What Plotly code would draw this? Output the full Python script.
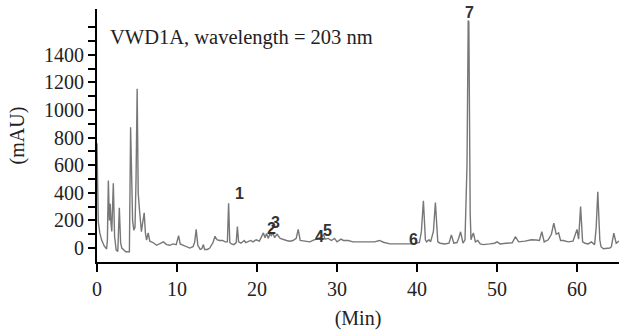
import plotly.graph_objects as go

# Retention time (min) and absorbance (mAU)
time_min = [0.0, 0.08, 0.16, 0.35, 0.58, 0.9, 1.2, 1.3, 1.42, 1.55, 1.65, 1.75, 1.85, 2.04, 2.2, 2.4, 2.6, 2.79, 2.95, 3.1, 3.6, 4.05,
            4.2, 4.45, 4.6, 4.75, 4.88, 5.02, 5.15, 5.3, 5.42, 5.55, 5.7, 5.9, 6.05, 6.2, 6.4, 6.6, 6.8,
            7.0, 7.45, 7.8, 8.3, 8.7, 9.1, 9.5, 9.9, 10.2, 10.4, 10.8, 11.2, 11.6, 12.0, 12.2, 12.4, 12.6, 12.9, 13.1, 13.3, 13.45, 13.8,
            14.1, 14.5, 14.75, 15.0, 15.3, 15.7, 16.0, 16.3, 16.45, 16.6, 16.8, 17.1, 17.4, 17.55, 17.7, 18.0, 18.4, 18.6, 18.9, 19.2,
            19.5, 19.9, 20.3, 20.6, 20.8, 21.0, 21.2, 21.4, 21.6, 21.8, 22.0, 22.2, 22.5, 22.9, 23.3, 23.7, 24.1, 24.5, 24.9, 25.15,
            25.4, 25.8, 26.2, 26.6, 27.0, 27.5, 27.8, 28.1, 28.3, 28.5, 28.9, 29.3, 29.7, 30.0, 30.5, 30.8, 31.4, 32.0, 32.6, 33.3,
            34.1, 34.7, 35.3, 35.8, 36.6, 37.5, 38.3, 38.9, 39.6, 40.3, 40.55, 40.8, 41.05, 41.2, 41.5, 41.7, 42.05, 42.3, 42.6, 42.9,
            43.5, 44.0, 44.3, 44.6, 45.0, 45.2, 45.45, 45.75, 46.0, 46.25, 46.4, 46.48, 46.65, 46.75, 46.85, 47.05, 47.3, 47.6, 47.9,
            48.3, 49.1, 49.7, 50.0, 50.4, 51.1, 51.9, 52.3, 52.7, 53.5, 54.3, 54.9, 55.3, 55.6, 55.9, 56.4, 56.8, 57.1, 57.4, 57.7,
            57.95, 58.3, 58.9, 59.5, 59.8, 60.0, 60.2, 60.45, 60.7, 61.0, 61.4, 61.8, 62.2, 62.4, 62.6, 62.85, 63.0, 63.3, 64.1, 64.3,
            64.6, 64.9, 65.25]
absorbance_mau = [760, 300, 190, 110, 58, 15, -7, 60, 490, 200, 320, 180, 120, 470, 82, -15, -25, 292, 40, 0, -27, -27,
                  875, 200, 130, 150, 500, 1155, 400, 283, 220, 118, 180, 255, 110, 58, 110, 50, 45,
                  40, 20, 30, 45, 25, 20, 30, 25, 90, 30, 20, 10, 0, 10, 40, 135, 20, -10, -5, 25, -10, -10,
                  0, 40, 85, 60, 55, 55, 45, 45, 325, 40, 30, 25, 40, 155, 45, 35, 55, 40, 50, 55,
                  45, 60, 50, 85, 110, 75, 105, 70, 100, 90, 110, 75, 100, 70, 60, 55, 50, 55, 70, 135,
                  55, 50, 45, 45, 55, 65, 70, 80, 100, 65, 70, 55, 70, 45, 65, 55, 55, 45, 45, 45,
                  40, 45, 55, 42, 30, 30, 30, 35, 30, 40, 120, 343, 60, 45, 60, 45, 120, 330, 45, 35,
                  30, 35, 95, 35, 40, 70, 118, 35, 60, 600, 1648, 1640, 250, 60, 80, 110, 45, 55, 30,
                  25, 30, 35, 45, 30, 35, 38, 82, 45, 50, 60, 58, 55, 118, 45, 60, 100, 180, 100, 110,
                  55, 55, 45, 50, 100, 135, 65, 300, 45, 35, 30, 45, 25, 150, 408, 60, 10, -5, 0, 10,
                  108, 35, 50]

# Numbered peak labels
peak_labels = ["1", "2", "3", "4", "5", "6", "7"]
peak_label_time = [17.75, 21.84, 22.25, 27.8, 28.8, 39.5, 46.6]
peak_label_mau = [398, 145, 188, 82, 130, 63, 1705]

x_ticks = [0, 10, 20, 30, 40, 50, 60]
y_tick_vals = [0, 100, 200, 300, 400, 500, 600, 700, 800, 900, 1000, 1100, 1200, 1300, 1400, 1500, 1600]
y_tick_text = ["0", "", "200", "", "400", "", "600", "", "800", "", "1000", "", "1200", "", "1400", "", ""]

title_text = "VWD1A, wavelength = 203 nm"

serif = "Liberation Serif"

fig = go.Figure()
fig.add_trace(go.Scatter(x=time_min, y=absorbance_mau, mode="lines",
                         line=dict(color="#777777", width=1.4), hoverinfo="skip",
                         showlegend=False))

for lab, t, v in zip(peak_labels, peak_label_time, peak_label_mau):
    fig.add_annotation(x=t, y=v, text="<b>" + lab + "</b>", showarrow=False,
                       xanchor="center", yanchor="middle",
                       font=dict(family="Liberation Sans Narrow, Liberation Sans, Arial", size=16, color="#333333"))

fig.add_annotation(xref="paper", yref="paper", x=0.021, y=0.889, text=title_text,
                   showarrow=False, xanchor="left", yanchor="middle",
                   font=dict(family=serif, size=20.5, color="#222222"))

fig.update_layout(
    width=619, height=334,
    margin=dict(l=97, r=0, t=9, b=72),
    paper_bgcolor="white", plot_bgcolor="white",
    xaxis=dict(range=[0, 65.25], showline=True, linecolor="black", linewidth=2,
               ticks="outside", ticklen=8, tickwidth=2, tickcolor="black",
               tickvals=x_ticks, showgrid=False, zeroline=False, automargin=False,
               tickfont=dict(family=serif, size=20, color="#222222"),
               title=dict(text="(Min)", font=dict(family=serif, size=20, color="#222222"), standoff=12)),
    yaxis=dict(range=[-101, 1732], showline=True, linecolor="black", linewidth=2,
               ticks="outside", ticklen=7, tickwidth=1.5, tickcolor="black",
               tickvals=y_tick_vals, ticktext=y_tick_text, showgrid=False, zeroline=False, automargin=False,
               tickfont=dict(family=serif, size=20, color="#222222"),
               title=dict(text="(mAU)", font=dict(family=serif, size=20, color="#222222"), standoff=14)),
)

fig.write_html("out.html", config={"displayModeBar": False},
               post_script="document.body.style.margin='0';document.body.style.overflow='hidden';")
